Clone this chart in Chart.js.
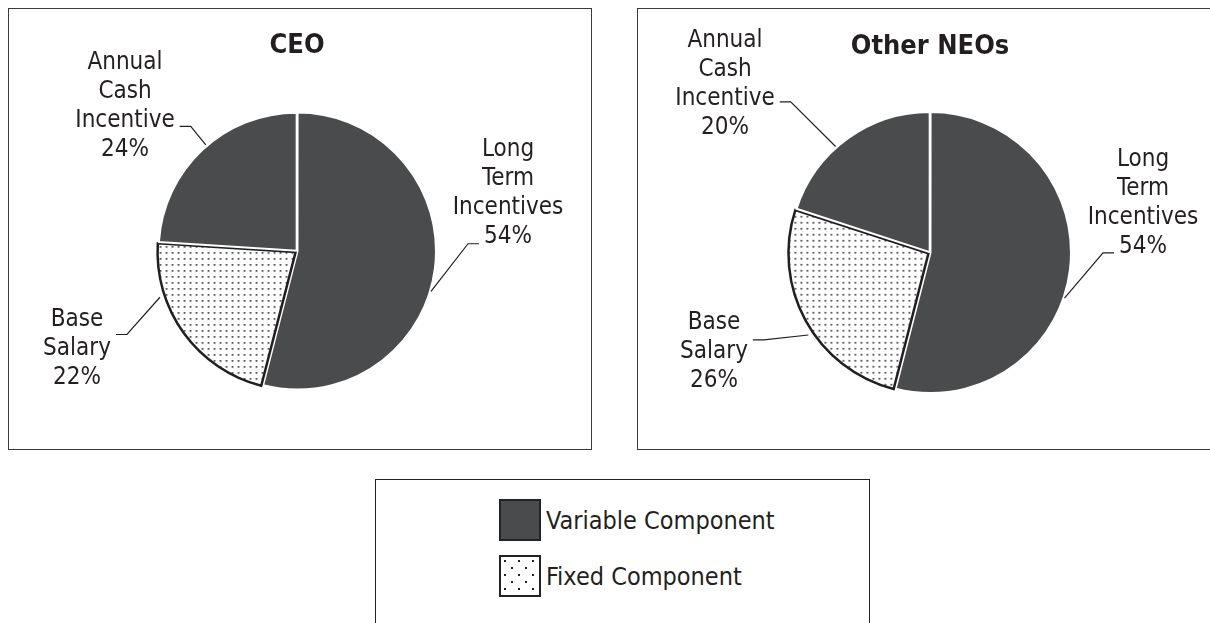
<!DOCTYPE html>
<html lang="en">
<head>
<meta charset="UTF-8">
<title>Pay Mix</title>
<script src="https://cdn.jsdelivr.net/npm/chart.js"></script>
<style>
  * { box-sizing: border-box; margin: 0; padding: 0; }
  html, body { width: 1210px; height: 623px; overflow: hidden; background: #fff; }
  body { position: relative; font-family: 'Liberation Sans Narrow', 'DejaVu Sans Condensed', sans-serif; color: #231f20; }
  .box { position: absolute; top: 8px; width: 584px; height: 442px; border: 1px solid #3a3a3a; }
  #ceoBox { left: 8px; }
  #neoBox { left: 637px; }
  .wrap { position: relative; width: 582px; height: 440px; }
  #legend { position: absolute; left: 375px; top: 479px; width: 495px; height: 200px; border: 1.5px solid #222; }
  .item { position: absolute; left: 123px; display: flex; align-items: center; font-size: 25px; }
  .swatch { width: 42px; height: 42px; border: 2px solid #222; margin-right: 5px; }
</style>
</head>
<body>
  <div class="box" id="ceoBox"><div class="wrap"><canvas id="ceoChart"></canvas></div></div>
  <div class="box" id="neoBox"><div class="wrap"><canvas id="neoChart"></canvas></div></div>
  <div id="legend"></div>

<script>
// data
const sliceLabels = ['Long Term Incentives', 'Base Salary', 'Annual Cash Incentive'];
const sliceGroup = ['Variable Component', 'Fixed Component', 'Variable Component'];
const ceoValues = [54, 22, 24];
const neoValues = [54, 26, 20];
const legendLabels = ['Variable Component', 'Fixed Component'];

const DARK = '#4a4b4d';
const INK = '#231f20';
const FONT = "'Liberation Sans Narrow', 'DejaVu Sans Condensed', sans-serif";

// fine square dot grid for the pie slices
function dotTile() {
    const c = document.createElement('canvas');
    c.width = 6; c.height = 6;
    const g = c.getContext('2d');
    g.fillStyle = '#fff';
    g.fillRect(0, 0, 6, 6);
    g.fillStyle = '#3c3c3c';
    g.fillRect(2, 2, 1.7, 1.7);
    return c;
}
// sparser staggered dots for the legend swatch
function swatchTile() {
    const c = document.createElement('canvas');
    c.width = 14; c.height = 14;
    const g = c.getContext('2d');
    g.fillStyle = '#fff';
    g.fillRect(0, 0, 14, 14);
    g.fillStyle = '#222';
    g.fillRect(2, 2, 2, 2);
    g.fillRect(9, 9, 2, 2);
    return c;
}
const tile = dotTile();
const dots = document.createElement('canvas').getContext('2d').createPattern(tile, 'repeat');

function fillFor(group) {
    return group === 'Fixed Component' ? dots : DARK;
}

// labels with elbow leader lines, placed relative to the pie centre
const calloutPlugin = {
    id: 'callouts',
    afterDraw(chart, args, opts) {
        const ctx = chart.ctx;
        const meta = chart.getDatasetMeta(0);
        const ds = chart.data.datasets[0];
        const lh = 29;
        ctx.save();

        // title
        const first = meta.data[0].getProps(['x', 'y'], true);
        ctx.fillStyle = INK;
        ctx.font = 'bold 27px ' + FONT;
        ctx.textAlign = 'center';
        ctx.textBaseline = 'middle';
        ctx.fillText(opts.title, first.x, opts.titleY);

        ctx.font = '24px ' + FONT;
        meta.data.forEach((arc, i) => {
            const p = arc.getProps(['x', 'y', 'startAngle', 'endAngle', 'outerRadius'], true);
            const place = opts.place[i];
            const lines = sliceLabels[i].split(' ').concat([ds.data[i] + '%']);
            const cx = p.x + place.dx;
            const top = p.y + place.dy - (lines.length - 1) * lh / 2;
            ctx.fillStyle = INK;
            lines.forEach((t, k) => ctx.fillText(t, cx, top + k * lh));

            // leader: short horizontal tick, then diagonal to the slice edge
            const li = Math.min(Math.round(place.line), lines.length - 1);
            const w = ctx.measureText(lines[li]).width;
            const ay = top + place.line * lh;
            const sgn = place.side === 'right' ? 1 : -1;
            const ax = cx + sgn * (w / 2 + 5);
            const bx = ax + sgn * 11;
            const mid = (p.startAngle + p.endAngle) / 2;
            const ang = p.startAngle + (p.endAngle - p.startAngle) * place.at;
            const off = ds.offset[i] || 0;
            const ox = p.x + Math.cos(mid) * off;
            const oy = p.y + Math.sin(mid) * off;
            const ex = ox + Math.cos(ang) * p.outerRadius;
            const ey = oy + Math.sin(ang) * p.outerRadius;
            ctx.strokeStyle = INK;
            ctx.lineWidth = 1.2;
            ctx.beginPath();
            ctx.moveTo(ax, ay);
            ctx.lineTo(bx, ay);
            ctx.lineTo(ex, ey);
            ctx.stroke();
        });
        ctx.restore();
    }
};

function makePie(id, values, radius, pad, title, titleY, place) {
    return new Chart(document.getElementById(id), {
        type: 'pie',
        data: {
            labels: sliceLabels,
            datasets: [{
                data: values,
                backgroundColor: sliceGroup.map(fillFor),
                borderColor: sliceGroup.map(g => g === 'Fixed Component' ? INK : '#fff'),
                borderWidth: sliceGroup.map(g => g === 'Fixed Component' ? 2.5 : 2),
                borderJoinStyle: 'miter',
                offset: [2, 7, 2]
            }]
        },
        options: {
            responsive: true,
            maintainAspectRatio: false,
            animation: false,
            radius: radius,
            layout: { padding: pad },
            plugins: {
                legend: { display: false },
                tooltip: { enabled: false },
                callouts: { title: title, titleY: titleY, place: place }
            }
        },
        plugins: [calloutPlugin]
    });
}

makePie('ceoChart', ceoValues, 138, { left: 0, right: 6, top: 44, bottom: 0 }, 'CEO', 37, [
    { dx: 211, dy: -58, side: 'left', line: 3.25, at: 0.55 },
    { dx: -220, dy: 98, side: 'right', line: 0.5, at: 0.73 },
    { dx: -172, dy: -145, side: 'right', line: 2.2, at: 0.53 }
]);

makePie('neoChart', neoValues, 140, { left: 2, right: 0, top: 47, bottom: 0 }, 'Other NEOs', 38, [
    { dx: 213, dy: -49, side: 'left', line: 3.2, at: 0.56 },
    { dx: -216, dy: 99, side: 'right', line: 0.6, at: 0.44 },
    { dx: -205, dy: -168, side: 'right', line: 2.1, at: 0.42 }
]);

// legend
const legend = document.getElementById('legend');
const swatchUrl = swatchTile().toDataURL();
legendLabels.forEach((name, i) => {
    const item = document.createElement('div');
    item.className = 'item';
    item.style.top = (19 + i * 56) + 'px';
    const sw = document.createElement('span');
    sw.className = 'swatch';
    if (name === 'Fixed Component') {
        sw.style.backgroundImage = 'url(' + swatchUrl + ')';
        sw.style.backgroundPosition = '1px 1px';
    } else {
        sw.style.background = DARK;
    }
    const txt = document.createElement('span');
    txt.textContent = name;
    item.appendChild(sw);
    item.appendChild(txt);
    legend.appendChild(item);
});
</script>
</body>
</html>
